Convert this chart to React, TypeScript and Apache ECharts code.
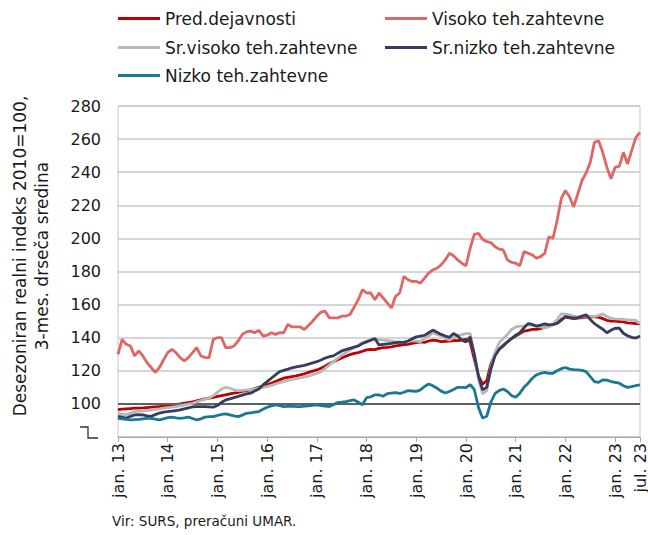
import React, { useEffect, useRef } from "react";
import * as echarts from "echarts";

const MONTHS = ["jan.", "feb.", "mar.", "apr.", "maj", "jun.", "jul.", "avg.", "sep.", "okt.", "nov.", "dec."];
const YEARS = ["13", "14", "15", "16", "17", "18", "19", "20", "21", "22", "23"];
const LAST_MONTH_INDEX = 126; // jul. 23

const SERIES_NAMES = [
  "Pred.dejavnosti",
  "Visoko teh.zahtevne",
  "Sr.visoko teh.zahtevne",
  "Sr.nizko teh.zahtevne",
  "Nizko teh.zahtevne",
];

const predDejavnosti = [
  96.5, 96.8, 97, 97.2, 97.4, 97.5, 97.6, 97.8, 98, 98.2, 98.4, 98.6,
  98.8, 99.2, 99.6, 100, 100.4, 100.8, 101.2, 101.8, 102.4, 103, 103.5, 104,
  104.5, 105, 105.5, 106, 106.5, 107, 107.5, 108, 108.5, 109.2, 110, 110.8,
  111.5, 112.5, 113.5, 114.5, 115.5, 116, 116.5, 117, 117.6, 118.2, 119, 119.8,
  120.5, 121.5, 122.8, 124.3, 125.5, 126.7, 127.8, 128.8, 129.8, 130.5, 131, 131.8,
  132.6, 133, 132.8, 133.5, 134, 134.2, 134.5, 135, 135.4, 135.8, 136, 136.5,
  137, 137.5, 137.2, 138, 138.6, 138.2, 137.6, 137.8, 138, 138.3, 138.2, 138.6,
  139, 137.5, 127, 117, 112, 114, 124, 130, 133, 135, 137.5, 139.5,
  141, 142.5, 144, 144.5, 145, 145, 145.5, 146.2, 147, 147.8, 149, 151,
  152.5, 152, 151.5, 151.8, 152.2, 152.5, 152.8, 152.6, 152.4, 151.5, 150.5, 150,
  150, 149.8, 149.5, 149, 148.8, 148.5, 148.3,
];

const visoko = [
  130, 139, 136, 135, 129, 132, 129, 125, 122, 119, 122, 126.5,
  131, 133, 131, 128, 126, 128, 131, 134, 129, 128, 128, 139,
  140, 140, 134, 134, 135, 138, 142, 143.5, 144, 143, 144.5, 141,
  141.5, 143, 142, 143, 143, 148, 146.5, 146.5, 146.5, 145, 147.5, 150,
  153, 155.5, 156, 152, 152, 152, 153, 153, 154, 158.5, 163, 169,
  167, 167, 163, 167, 164, 161, 158, 165, 167, 177, 175, 174,
  174, 173, 176, 179, 181, 182, 184, 187, 191, 189.5, 187, 185,
  183.5, 194, 202.5, 203, 199.5, 198, 197.5, 195, 193.5, 193, 187, 185.5,
  185, 183.5, 192, 191, 190, 188, 189, 191, 201, 200, 211, 224,
  229, 225, 219, 227, 235, 239.5, 246, 258, 259, 252, 243, 236,
  243, 243.5, 252, 245, 253, 261, 264,
];

const srVisoko = [
  94.5, 93.8, 93.4, 94.5, 95.4, 95.6, 95.8, 96, 96.3, 96.7, 97, 97.4,
  97.7, 98, 98.4, 98.8, 99.3, 99.8, 100.4, 101.2, 102, 102.8, 103.6, 105,
  107, 109, 110, 109.5, 108.5, 108, 108.2, 108.5, 108.5, 109, 109.5, 110,
  110.5, 111.2, 112, 112.8, 113.5, 114.2, 114.8, 115.3, 115.7, 116.3, 116.8, 117.6,
  118.5, 119.5, 121.5, 123.5, 125.5, 127.5, 129.5, 131, 132.5, 134, 135.5, 137,
  138, 138.5, 139, 138.8, 138.5, 138.3, 138, 137.5, 137, 137.5, 138, 138.3,
  138, 137.7, 139.4, 141, 143, 142, 141, 139.5, 138.6, 140, 141.4, 141.8,
  142.5, 142.5, 130, 115, 106, 108, 122, 131, 137, 139.5, 142, 145,
  146.5, 147, 147.2, 147.7, 147.4, 147, 146.5, 146, 146.5, 148, 151, 154.4,
  154.2, 153.8, 153, 152.4, 152.8, 153.2, 153, 152.8, 153.5, 154.4, 152.8, 151.8,
  151.4, 151.2, 151, 150.8, 150.6, 150.4, 148.5,
];

const srNizko = [
  92.5, 92, 91.3, 92.5, 93.4, 93.5, 93.4, 92.8, 92.5, 93.5, 94.5, 95,
  95.3, 95.6, 96, 96.4, 97, 97.6, 98.2, 98.4, 98.4, 98.4, 98.2, 98,
  99, 101, 102.4, 103, 103.8, 104.5, 105.3, 106, 106.5, 107.8, 109, 111.5,
  113.5, 115.5, 117.5, 119.5, 120.3, 121, 121.8, 122.3, 122.8, 123.3, 124, 124.8,
  125.5, 126.5, 127.7, 128.5, 129, 130.5, 132, 132.8, 133.6, 134.3, 135, 136.5,
  137.5, 138.5, 139.5, 135.6, 136, 136.3, 136.6, 137, 137.3, 137, 138, 139.3,
  140.5, 141, 141.4, 143, 144.6, 143.3, 142, 141, 140.2, 142.6, 141, 138.5,
  137.5, 140.5, 130, 117, 108.5, 110, 121, 129, 133, 135.5, 137.4, 139.5,
  141.5, 143, 146, 148.5, 148, 147, 147.6, 148.3, 147.8, 148, 148.6, 150.5,
  152.8, 152.3, 151.8, 152.2, 153, 153.8, 151, 148.5, 146.8, 145.2, 143, 144.5,
  145.7, 145.7, 142.7, 141.2, 140.2, 139.8, 141,
];

const nizko = [
  91.3, 91, 90.6, 90.3, 90.5, 90.7, 91, 91.2, 91.3, 90.8, 90.3, 91,
  91.7, 92, 91.6, 91.3, 91.6, 92, 91.2, 90.3, 91, 92, 92.3, 92.3,
  93, 93.6, 94, 93.4, 92.8, 92.3, 93.2, 94.3, 94.6, 95, 95.4, 96.7,
  98, 98.8, 99.4, 99, 98.4, 98.5, 98.6, 98.4, 98.4, 98.6, 98.8, 99.1,
  99.4, 99, 98.6, 98.4, 99.5, 100.8, 101, 101.4, 102, 102.4, 101, 99.5,
  103.8, 104.2, 105.5, 105.4, 104.6, 106.2, 106.5, 106.8, 106.3, 107, 108, 107.8,
  107.6, 108.5, 110.5, 112, 111, 109.5, 107.7, 106.6, 107.5, 108.7, 110, 110,
  109.8, 111.7, 108.7, 98, 91.5, 92.5, 101, 106.3, 108, 109, 107.5, 105,
  104, 106.5, 110, 112.5, 115.5, 117.5, 118.5, 119, 118.5, 118.5, 120, 121.3,
  122, 121, 120.7, 120.5, 120.3, 119.5, 116.5, 113.5, 113, 114.5, 114.4, 113.5,
  113, 112.5, 111, 110, 110.5, 111, 111.5,
];

const Y_MIN = 80;
const Y_MAX = 280;
const Y_STEP = 20;
const BASE_LINE = 100;

const COLORS = ["#c00000", "#e06666", "#b8b8b8", "#333d5e", "#1a7893"];
const FONT = "DejaVu Sans";

const categories: string[] = [];
for (const y of YEARS) {
  for (const m of MONTHS) {
    if (categories.length <= LAST_MONTH_INDEX) categories.push(`${m} ${y}`);
  }
}

const showTick = (i: number) => i % 12 === 0 || i === LAST_MONTH_INDEX;

export default function App() {
  const ref = useRef<HTMLDivElement>(null);
  useEffect(() => {
    if (!ref.current) return;
    const chart = echarts.init(ref.current, undefined, { renderer: "svg" });
    const data = [predDejavnosti, visoko, srVisoko, srNizko, nizko];
    const legendPos = [
      { left: 118, top: 10 },
      { left: 385, top: 10 },
      { left: 118, top: 39 },
      { left: 385, top: 39 },
      { left: 118, top: 67 },
    ];
    chart.setOption({
      animation: false,
      backgroundColor: "#ffffff",
      grid: {
        left: 118,
        right: 4,
        top: 106,
        bottom: 98,
        show: true,
        borderColor: "#c4c4c4",
        borderWidth: 1,
        backgroundColor: "transparent",
      },
      legend: SERIES_NAMES.map((n, i) => ({
        data: [n],
        left: legendPos[i].left,
        top: legendPos[i].top,
        padding: 0,
        icon: "rect",
        itemWidth: 42,
        itemHeight: 3,
        selectedMode: false,
        textStyle: { fontFamily: FONT, fontSize: 17, color: "#1a1a1a" },
      })),
      xAxis: {
        type: "category",
        data: categories,
        boundaryGap: false,
        axisLine: { show: true, lineStyle: { color: "#a6a6a6", width: 1 } },
        axisTick: { show: true, interval: showTick, length: 5, lineStyle: { color: "#a6a6a6" } },
        axisLabel: {
          interval: showTick,
          rotate: 90,
          margin: 6,
          fontFamily: FONT,
          fontSize: 16,
          color: "#1a1a1a",
          hideOverlap: false,
        },
        splitLine: { show: false },
      },
      yAxis: {
        type: "value",
        min: Y_MIN,
        max: Y_MAX,
        interval: Y_STEP,
        axisLine: { show: false },
        axisTick: { show: false },
        axisLabel: {
          margin: 17,
          fontFamily: FONT,
          fontSize: 16,
          color: "#1a1a1a",
          formatter: (v: number) => (v === Y_MIN ? "" : String(v)),
        },
        splitLine: { show: true, lineStyle: { color: "#c8c8c8", width: 1.5 } },
      },
      series: SERIES_NAMES.map((n, i) => ({
        name: n,
        type: "line",
        data: data[i],
        showSymbol: false,
        symbol: "none",
        lineStyle: { color: COLORS[i], width: 2.8 },
        itemStyle: { color: COLORS[i] },
        z: 3 + i,
        markLine:
          i === 0
            ? {
                silent: true,
                symbol: "none",
                label: { show: false },
                lineStyle: { color: "#5f5f5f", width: 2, type: "solid" },
                data: [{ yAxis: BASE_LINE }],
              }
            : undefined,
      })),
      graphic: [
        {
          type: "text",
          x: 31,
          y: 256,
          rotation: Math.PI / 2,
          style: {
            text: "Desezoniran realni indeks 2010=100,\n3-mes. drseča sredina",
            fontFamily: FONT,
            fontSize: 17,
            lineHeight: 22,
            fill: "#1a1a1a",
            textAlign: "center",
            textVerticalAlign: "middle",
            align: "center",
            verticalAlign: "middle",
          },
        },
        {
          type: "text",
          left: 112,
          top: 514,
          style: {
            text: "Vir: SURS, preračuni UMAR.",
            fontFamily: FONT,
            fontSize: 13.5,
            fill: "#1a1a1a",
          },
        },
        {
          type: "polyline",
          shape: { points: [[80, 427], [88, 427], [88, 438], [98, 438]] },
          style: { stroke: "#333333", lineWidth: 1.3, fill: "none" },
        },
      ],
    });
    return () => chart.dispose();
  }, []);
  return (
    <div
      ref={ref}
      style={{ position: "fixed", left: 0, top: 0, width: 648, height: 535, background: "#fff" }}
    />
  );
}
